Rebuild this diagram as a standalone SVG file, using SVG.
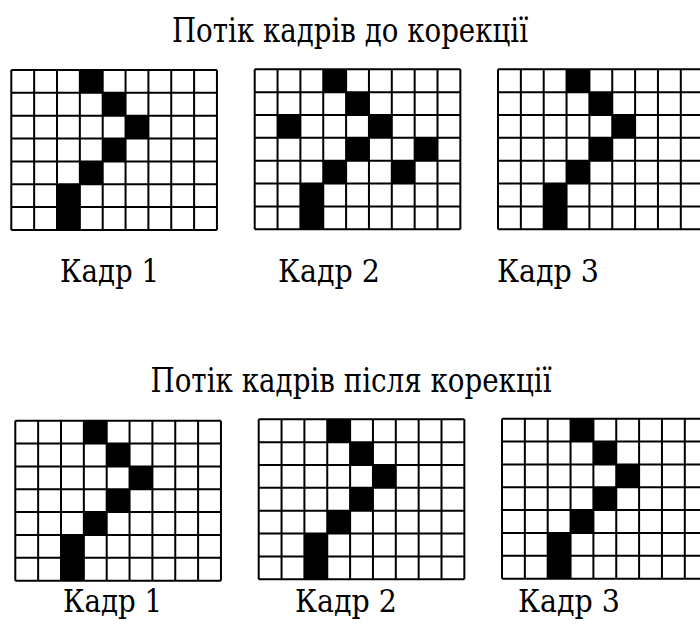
<svg xmlns="http://www.w3.org/2000/svg" xmlns:xlink="http://www.w3.org/1999/xlink" width="700" height="639" viewBox="0 0 700 639">
<style>
.grid{fill:none;stroke:#000;stroke-width:2}
.on{fill:#000}
text{fill:#000;font-family:'DejaVu Serif','Liberation Serif',serif}
.title{font-size:33px;text-anchor:middle}
.lbl{font-size:32px}
</style>
<defs>
<g id="cellsA">
<rect class="on" x="68.55" y="0" width="22.85" height="22.85"/>
<rect class="on" x="91.4" y="22.85" width="22.85" height="22.85"/>
<rect class="on" x="114.25" y="45.7" width="22.85" height="22.85"/>
<rect class="on" x="91.4" y="68.55" width="22.85" height="22.85"/>
<rect class="on" x="68.55" y="91.4" width="22.85" height="22.85"/>
<rect class="on" x="45.7" y="114.25" width="22.85" height="45.7"/>
</g>
<path id="lines" class="grid" d="M0,0H205.65M0,22.85H205.65M0,45.7H205.65M0,68.55H205.65M0,91.4H205.65M0,114.25H205.65M0,137.1H205.65M0,159.95H205.65M0,0V159.95M22.85,0V159.95M45.7,0V159.95M68.55,0V159.95M91.4,0V159.95M114.25,0V159.95M137.1,0V159.95M159.95,0V159.95M182.8,0V159.95M205.65,0V159.95"/>
</defs>
<rect width="700" height="639" fill="#fff"/>
<text class="title" x="350" y="41.7" textLength="356" lengthAdjust="spacingAndGlyphs">Потік кадрів до корекції</text>
<text class="title" x="351" y="391.5" textLength="401" lengthAdjust="spacingAndGlyphs">Потік кадрів після корекції</text>
<g id="before-frame1" transform="translate(11.3,70)">
<use xlink:href="#cellsA"/><use xlink:href="#lines"/>
</g>
<g id="before-frame2" transform="translate(254.7,69.3)">
<rect class="on" x="68.55" y="0" width="22.85" height="22.85"/>
<rect class="on" x="91.4" y="22.85" width="22.85" height="22.85"/>
<rect class="on" x="22.85" y="45.7" width="22.85" height="22.85"/>
<rect class="on" x="114.25" y="45.7" width="22.85" height="22.85"/>
<rect class="on" x="91.4" y="68.55" width="22.85" height="22.85"/>
<rect class="on" x="159.95" y="68.55" width="22.85" height="22.85"/>
<rect class="on" x="68.55" y="91.4" width="22.85" height="22.85"/>
<rect class="on" x="137.1" y="91.4" width="22.85" height="22.85"/>
<rect class="on" x="45.7" y="114.25" width="22.85" height="45.7"/>
<use xlink:href="#lines"/>
</g>
<g id="before-frame3" transform="translate(498,69.3)">
<use xlink:href="#cellsA"/><use xlink:href="#lines"/>
</g>
<g id="after-frame1" transform="translate(15.3,420.7)">
<use xlink:href="#cellsA"/><use xlink:href="#lines"/>
</g>
<g id="after-frame2" transform="translate(258.7,419.3)">
<use xlink:href="#cellsA"/><use xlink:href="#lines"/>
</g>
<g id="after-frame3" transform="translate(502,418.7)">
<use xlink:href="#cellsA"/><use xlink:href="#lines"/>
</g>
<text class="lbl" x="60" y="281.7" textLength="99" lengthAdjust="spacingAndGlyphs">Кадр 1</text>
<text class="lbl" x="278" y="281.7" textLength="102" lengthAdjust="spacingAndGlyphs">Кадр 2</text>
<text class="lbl" x="497" y="281.7" textLength="102" lengthAdjust="spacingAndGlyphs">Кадр 3</text>
<text class="lbl" x="63" y="612" textLength="99" lengthAdjust="spacingAndGlyphs">Кадр 1</text>
<text class="lbl" x="295" y="612" textLength="102" lengthAdjust="spacingAndGlyphs">Кадр 2</text>
<text class="lbl" x="518" y="612" textLength="102" lengthAdjust="spacingAndGlyphs">Кадр 3</text>
<g id="connectors"/>
</svg>
